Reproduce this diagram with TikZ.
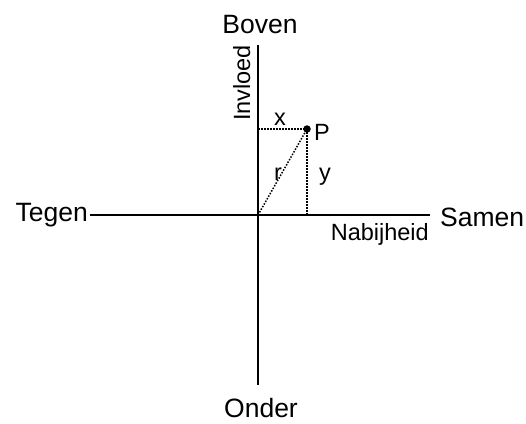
\documentclass[tikz,border=0pt]{standalone}
\usepackage{fontspec}
\setmainfont{Liberation Sans}
\usetikzlibrary{calc}
\definecolor{diagramink}{HTML}{000000}
\tikzset{
  diagram axis/.style={
    draw=diagramink, line width=1.8pt
  },
  diagram guide/.style={
    draw=diagramink, line width=1.5pt,
    dash pattern=on 1.5pt off 1.5pt
  },
  diagram pole/.style={
    text=diagramink, inner sep=0pt,
    font=\fontsize{26.5}{31}\selectfont
  },
  diagram label/.style={
    text=diagramink, inner sep=0pt,
    font=\fontsize{23.5}{28}\selectfont
  },
  diagram point/.style={
    circle, fill=diagramink, inner sep=0pt, minimum size=7.5pt
  }
}

\begin{document}
\begin{tikzpicture}[x=1pt,y=-1pt]
  \useasboundingbox (0,0) rectangle (526,423);

  \coordinate (origin) at (258,215);
  \coordinate (top) at (258,45);
  \coordinate (bottom) at (258,385);
  \coordinate (left) at (90,215);
  \coordinate (right) at (430,215);

  \node[diagram point] (P) at (307,129) {};
  \coordinate (Px) at (origin |- P);
  \coordinate (Py) at (P |- origin);

  % The two axes of the plane.
  \draw[diagram axis] (top) -- (bottom);
  \draw[diagram axis] (left) -- (right);

  % Projections of the point onto the axes and its radius.
  \draw[diagram guide] (Px) -- (P.center);
  \draw[diagram guide] (P.center) -- (Py);
  \draw[diagram guide] (origin) -- (P.center);

  \node[diagram pole,anchor=base] (boven) at (260,33) {Boven};
  \node[diagram pole,anchor=base] (onder) at (261,417) {Onder};
  \node[diagram pole,anchor=base east] (tegen) at (88,221) {Tegen};
  \node[diagram pole,anchor=base west] (samen) at (440,226) {Samen};

  \node[diagram label,anchor=base east] (nabijheid) at (429,240) {Nabijheid};
  \node[diagram label,anchor=base east,rotate=90] (invloed) at (250,45) {Invloed};

  \node[diagram label,anchor=base] (xlabel) at (280,125) {x};
  \node[diagram label,anchor=base west] (plabel) at (314,140) {P};
  \node[diagram label,anchor=base] (rlabel) at (278,180) {r};
  \node[diagram label,anchor=base] (ylabel) at (325,180) {y};
\end{tikzpicture}
\end{document}
